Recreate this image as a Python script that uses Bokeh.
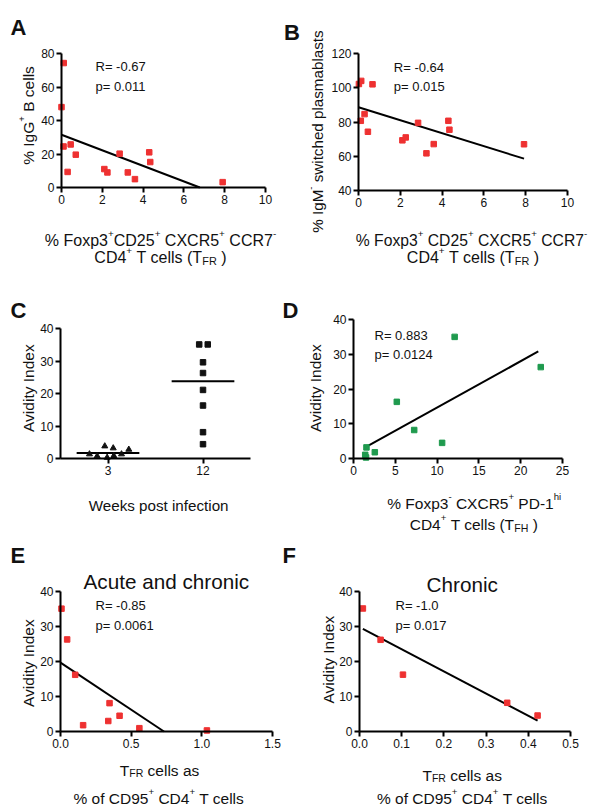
import math
from bokeh.plotting import figure
from bokeh.models import Range1d, LinearAxis, FixedTicker, Label, NumeralTickFormatter
from bokeh.layouts import column, row
from bokeh.embed import file_html
from bokeh.resources import INLINE

# ---------------- data ----------------
# Panel A: % IgG+ B cells vs % TFR
a_x = [0.11, 0.0, 0.10, 0.30, 0.45, 0.70, 2.10, 2.25, 2.85, 3.25, 3.60, 4.30, 4.35, 7.90]
a_y = [74.3, 48.0, 24.5, 9.3, 25.7, 19.6, 11.0, 9.0, 20.2, 9.0, 5.0, 21.0, 15.2, 3.2]
a_fit_x = [0.0, 6.78]
a_fit_y = [31.5, 0.0]
a_stats = ["R= -0.67", "p= 0.011"]
a_xticks = [0, 2, 4, 6, 8, 10]
a_yticks = [0, 20, 40, 60, 80]

# Panel B: % IgM- switched plasmablasts vs % TFR
b_x = [0.02, 0.13, 0.11, 0.29, 0.45, 0.67, 2.10, 2.26, 2.85, 3.25, 3.60, 4.30, 4.35, 7.92]
b_y = [102.2, 104.0, 80.7, 84.6, 74.3, 102.0, 69.3, 71.0, 79.5, 61.7, 67.1, 80.7, 75.5, 67.0]
b_fit_x = [0.0, 7.92]
b_fit_y = [88.6, 58.6]
b_stats = ["R=  -0.64", "p= 0.015"]
b_xticks = [0, 2, 4, 6, 8, 10]
b_yticks = [40, 60, 80, 100, 120]

# Panel C: avidity index by weeks post infection
c_groups = ["3", "12"]
c_w3_offset = [-0.195, -0.114, -0.034, -0.009, 0.055, 0.061, 0.142, 0.219]
c_w3_y = [1.35, 0.74, 3.8, 0.3, 3.2, 0.83, 1.35, 2.77]
c_w12_offset = [-0.04, 0.05, 0.0, 0.0, 0.0, 0.0, 0.0, 0.0]
c_w12_y = [35.1, 35.1, 29.6, 26.3, 21.1, 16.3, 8.1, 4.4]
c_medians = [1.7, 23.8]
c_yticks = [0, 10, 20, 30, 40]

# Panel D: avidity index vs % TFH
d_x = [1.55, 1.40, 1.50, 2.55, 5.18, 7.26, 10.6, 12.1, 22.4]
d_y = [3.2, 1.06, 0.3, 1.8, 16.3, 8.2, 4.5, 35.0, 26.3]
d_fit_x = [1.4, 22.1]
d_fit_y = [3.2, 30.8]
d_stats = ["R= 0.883", "p= 0.0124"]
d_xticks = [0, 5, 10, 15, 20, 25]
d_yticks = [0, 10, 20, 30, 40]

# Panel E: acute and chronic
e_x = [0.007, 0.047, 0.104, 0.16, 0.338, 0.347, 0.418, 0.558, 1.036]
e_y = [35.1, 26.3, 16.2, 1.8, 3.0, 8.1, 4.5, 0.95, 0.3]
e_fit_x = [0.0, 0.732]
e_fit_y = [19.7, 0.0]
e_stats = ["R= -0.85", "p= 0.0061"]
e_xticks = [0.0, 0.5, 1.0, 1.5]
e_yticks = [0, 10, 20, 30, 40]

# Panel F: chronic
f_x = [0.008, 0.05, 0.103, 0.35, 0.422]
f_y = [35.15, 26.2, 16.25, 8.2, 4.56]
f_fit_x = [0.008, 0.422]
f_fit_y = [29.35, 3.1]
f_stats = ["R= -1.0", "p= 0.017"]
f_xticks = [0.0, 0.1, 0.2, 0.3, 0.4, 0.5]
f_yticks = [0, 10, 20, 30, 40]

# ---------------- styling helpers ----------------
FONT = "Liberation Sans"
RED = "#ee3131"
GREEN = "#1f9a4e"
BLACK = "#111111"

CW = {' ': 278, '%': 889, '(': 333, ')': 333, '+': 584, '-': 333, '.': 278, '=': 584,
      'A': 667, 'B': 667, 'C': 722, 'D': 722, 'E': 667, 'F': 611, 'G': 778, 'H': 722,
      'I': 278, 'M': 833, 'P': 667, 'R': 722, 'T': 611, 'W': 944, 'X': 667,
      'a': 556, 'b': 556, 'c': 500, 'd': 556, 'e': 556, 'f': 278, 'g': 556, 'h': 556,
      'i': 222, 'k': 500, 'l': 222, 'm': 833, 'n': 556, 'o': 556, 'p': 556, 'r': 333,
      's': 500, 't': 278, 'u': 556, 'v': 500, 'w': 722, 'x': 500, 'y': 500}


def text_w(s, fs):
    return sum(CW.get(ch, 556) for ch in s) * fs / 1000.0


class Panel:
    """One figure whose frame fills its whole cell; axes sit at fixed data locations."""

    def __init__(self, cell, axpx, xr, yr):
        self.cx, self.cy, self.cw, self.ch = cell
        self.axl, self.axr, self.axt, self.axb = axpx
        self.x0, self.x1 = xr
        self.y0, self.y1 = yr
        self.sx = (self.x1 - self.x0) / (self.axr - self.axl)
        self.sy = (self.y1 - self.y0) / (self.axb - self.axt)
        xs = self.dx(self.cx)
        xe = self.dx(self.cx + self.cw)
        ys = self.dy(self.cy + self.ch)
        ye = self.dy(self.cy)
        self.p = figure(width=self.cw, height=self.ch, min_border=0,
                        min_border_left=0, min_border_right=0, min_border_top=0, min_border_bottom=0,
                        x_range=Range1d(xs, xe), y_range=Range1d(ys, ye),
                        x_axis_location=None, y_axis_location=None,
                        toolbar_location=None, tools="", output_backend="svg",
                        outline_line_color=None, background_fill_color="white",
                        border_fill_color="white")
        for g in self.p.grid:
            g.visible = False

    def dx(self, px):
        return self.x0 + (px - self.axl) * self.sx

    def dy(self, py):
        return self.y0 + (self.axb - py) * self.sy

    def axes(self, xticks, yticks, xfmt="0", yfmt="0", xover=None):
        for side, ticks, fmt in (("below", xticks, xfmt), ("left", yticks, yfmt)):
            if side == "below":
                ax = LinearAxis(fixed_location=self.y0, bounds=(self.x0, self.x1))
            else:
                ax = LinearAxis(fixed_location=self.x0, bounds=(self.y0, self.y1))
            ax.ticker = FixedTicker(ticks=ticks)
            ax.formatter = NumeralTickFormatter(format=fmt)
            if side == "below" and xover:
                ax.major_label_overrides = xover
            ax.axis_line_width = 2
            ax.axis_line_color = "black"
            ax.major_tick_line_width = 2
            ax.major_tick_line_color = "black"
            ax.major_tick_out = 5
            ax.major_tick_in = 0
            ax.minor_tick_line_color = None
            ax.major_label_text_font = FONT
            ax.major_label_text_font_size = "12px"
            ax.major_label_text_color = BLACK
            ax.major_label_standoff = 2
            self.p.add_layout(ax, side)

    def label(self, text, px, py, fs, align="left", bold=False, angle=0.0):
        self.p.add_layout(Label(x=self.dx(px), y=self.dy(py), text=text, angle=angle,
                                text_align=align, text_baseline="alphabetic",
                                text_font=FONT, text_font_size=f"{fs:.2f}px",
                                text_font_style="bold" if bold else "normal",
                                text_color=BLACK))

    def rich(self, segs, center, base, fs, vertical=False):
        kinds = {"n": (1.0, 0.0), "sup": (0.62, 0.40), "sub": (0.68, -0.22)}
        total = sum(text_w(t, fs * kinds[k][0]) for t, k in segs)
        pos = -total / 2.0
        for t, k in segs:
            sc, sh = kinds[k]
            f = fs * sc
            lead = len(t) - len(t.lstrip(' '))
            shown = t.strip(' ')
            off = pos + lead * 278 * f / 1000.0
            if shown:
                if vertical:
                    self.label(shown, base - sh * fs, center - off, f, angle=math.pi / 2)
                else:
                    self.label(shown, center + off, base - sh * fs, f)
            pos += text_w(t, f)

    def stats(self, texts, px, py1, py2, fs=13):
        self.label(texts[0], px, py1, fs)
        self.label(texts[1], px, py2, fs)


TITLE_FS = 15.5
LET_FS = 22
HEAD_FS = 20.7

COL_L, COL_R = (0, 281), (281, 321)
ROWS = [(0, 275), (275, 259), (534, 275)]

# ---------------- Panel A ----------------
A = Panel((COL_L[0], ROWS[0][0], COL_L[1], ROWS[0][1]), (61, 265, 53, 187), (0, 10), (0, 80))
A.axes(a_xticks, a_yticks)
A.p.line(a_fit_x, a_fit_y, line_color="black", line_width=2)
A.p.scatter(a_x, a_y, marker="square", size=5.5, fill_color=RED, line_color=RED)
A.label("A", 10, 26.7, LET_FS, bold=True)
A.stats(a_stats, 95, 65.7, 86)
A.rich([("% IgG", "n"), ("+", "sup"), (" B cells", "n")], 115, 28, TITLE_FS, vertical=True)
A.rich([("% Foxp3", "n"), ("+", "sup"), ("CD25", "n"), ("+", "sup"), (" CXCR5", "n"), ("+", "sup"),
        (" CCR7", "n"), ("-", "sup")], 160, 239.5, 16)
A.rich([("CD4", "n"), ("+", "sup"), (" T cells (T", "n"), ("FR", "sub"), (" )", "n")], 160, 256.5, 16)

# ---------------- Panel B ----------------
B = Panel((COL_R[0], ROWS[0][0], COL_R[1], ROWS[0][1]), (358, 567, 53, 190), (0, 10), (40, 120))
B.axes(b_xticks, b_yticks)
B.p.line(b_fit_x, b_fit_y, line_color="black", line_width=2)
B.p.scatter(b_x, b_y, marker="square", size=5.5, fill_color=RED, line_color=RED)
B.label("B", 283.5, 31.5, LET_FS, bold=True)
B.stats(b_stats, 393.3, 66.7, 86)
B.rich([("% IgM", "n"), ("-", "sup"), (" switched plasmablasts", "n")], 131, 316.5, 15.2, vertical=True)
B.rich([("% Foxp3", "n"), ("+", "sup"), (" CD25", "n"), ("+", "sup"), (" CXCR5", "n"), ("+", "sup"),
        (" CCR7", "n"), ("-", "sup")], 471, 240, 15.7)
B.rich([("CD4", "n"), ("+", "sup"), (" T cells (T", "n"), ("FR", "sub"), (" )", "n")], 472.5, 256.7, 16)

# ---------------- Panel C ----------------
C = Panel((COL_L[0], ROWS[1][0], COL_L[1], ROWS[1][1]), (60, 250, 328, 458), (0, 2), (0, 40))
c_centers = [i + 0.5 for i in range(len(c_groups))]
C.axes(c_centers, c_yticks, xover={c: g for c, g in zip(c_centers, c_groups)})
C.p.segment(x0=[c - 0.33 for c in c_centers], x1=[c + 0.33 for c in c_centers],
            y0=c_medians, y1=c_medians, line_color="black", line_width=2)
C.p.scatter([c_centers[0] + o for o in c_w3_offset], c_w3_y, marker="triangle", size=6,
            fill_color=BLACK, line_color=BLACK)
C.p.scatter([c_centers[1] + o for o in c_w12_offset], c_w12_y, marker="square", size=5.5,
            fill_color=BLACK, line_color=BLACK)
C.label("C", 10, 310, LET_FS, bold=True)
C.rich([("Avidity Index", "n")], 387.5, 27.7, TITLE_FS, vertical=True)
C.rich([("Weeks post infection", "n")], 158.3, 505, 15.2)

# ---------------- Panel D ----------------
D = Panel((COL_R[0], ROWS[1][0], COL_R[1], ROWS[1][1]), (353, 562, 319, 458), (0, 25), (0, 40))
D.axes(d_xticks, d_yticks)
D.p.line(d_fit_x, d_fit_y, line_color="black", line_width=2)
D.p.scatter(d_x, d_y, marker="square", size=5.5, fill_color=GREEN, line_color=GREEN)
D.label("D", 282, 310, LET_FS, bold=True)
D.stats(d_stats, 374, 335, 354.3)
D.rich([("Avidity Index", "n")], 387.5, 314.5, TITLE_FS, vertical=True)
D.rich([("% Foxp3", "n"), ("-", "sup"), (" CXCR5", "n"), ("+", "sup"), (" PD-1", "n"), ("hi", "sup")],
       473.7, 502.5, TITLE_FS)
D.rich([("CD4", "n"), ("+", "sup"), (" T cells (T", "n"), ("FH", "sub"), (" )", "n")], 473.3, 524, TITLE_FS)

# ---------------- Panel E ----------------
E = Panel((COL_L[0], ROWS[2][0], COL_L[1], ROWS[2][1]), (60, 272, 591, 731), (0, 1.5), (0, 40))
E.axes(e_xticks, e_yticks, xfmt="0.0")
E.p.line(e_fit_x, e_fit_y, line_color="black", line_width=2)
E.p.scatter(e_x, e_y, marker="square", size=5.5, fill_color=RED, line_color=RED)
E.label("E", 10, 555, LET_FS, bold=True)
E.label("Acute and chronic", 165.8, 580.5, HEAD_FS, align="center")
E.stats(e_stats, 95, 605, 625)
E.rich([("Avidity Index", "n")], 662.5, 27.7, TITLE_FS, vertical=True)
E.rich([("T", "n"), ("FR", "sub"), (" cells as", "n")], 159, 769.5, TITLE_FS)
E.rich([("% of CD95", "n"), ("+", "sup"), (" CD4", "n"), ("+", "sup"), (" T cells", "n")], 158.3, 798, TITLE_FS)

# ---------------- Panel F ----------------
F = Panel((COL_R[0], ROWS[2][0], COL_R[1], ROWS[2][1]), (359, 570, 591, 731), (0, 0.5), (0, 40))
F.axes(f_xticks, f_yticks, xfmt="0.0")
F.p.line(f_fit_x, f_fit_y, line_color="black", line_width=2)
F.p.scatter(f_x, f_y, marker="square", size=5.5, fill_color=RED, line_color=RED)
F.label("F", 282, 555, LET_FS, bold=True)
F.label("Chronic", 461.7, 584.3, HEAD_FS, align="center")
F.stats(f_stats, 395, 605, 625)
F.rich([("Avidity Index", "n")], 659, 327.7, TITLE_FS, vertical=True)
F.rich([("T", "n"), ("FR", "sub"), (" cells as", "n")], 461.7, 774.5, TITLE_FS)
F.rich([("% of CD95", "n"), ("+", "sup"), (" CD4", "n"), ("+", "sup"), (" T cells", "n")], 461.7, 798, TITLE_FS)

layout = column(row(A.p, B.p), row(C.p, D.p), row(E.p, F.p))
open("out.html", "w").write(file_html(layout, INLINE))
